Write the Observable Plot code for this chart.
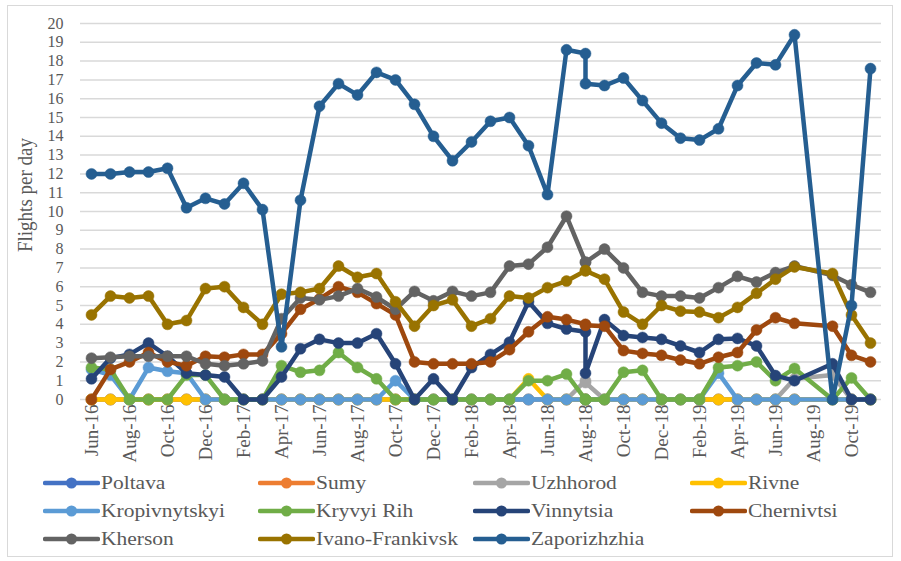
<!DOCTYPE html>
<html>
<head>
<meta charset="utf-8">
<script src="https://cdn.jsdelivr.net/npm/d3@7"></script>
<script src="https://cdn.jsdelivr.net/npm/@observablehq/plot@0.6"></script>
<style>
  html, body { margin: 0; padding: 0; background: #fff; }
  #wrap { position: relative; width: 901px; height: 561px; overflow: hidden; font-family: "Liberation Serif", "DejaVu Serif", serif; color: #595959; }
  #frame { position: absolute; left: 7px; top: 5px; width: 886px; height: 552px; border: 1px solid #d9d9d9; box-sizing: border-box; pointer-events: none; }
  #chart { position: absolute; left: 0; top: 0; }
  #ytitle { position: absolute; left: 25px; top: 195px; transform: translate(-50%, -50%) rotate(-90deg) scaleY(1.12); white-space: nowrap; font-size: 19px; }
  #legend { position: absolute; left: 43px; top: 469px; display: grid; grid-template-columns: 215px 215px 217px 200px; grid-auto-rows: 28px; font-size: 19px; }
  .item { display: flex; align-items: center; white-space: nowrap; }
  .item svg { flex: none; margin-right: 1px; }
  .item span { display: inline-block; transform: scaleX(1.13); transform-origin: left center; }
  #chart svg text { font-family: "Liberation Serif", "DejaVu Serif", serif; }
</style>
</head>
<body>
<div id="wrap">
  <div id="chart"></div>
  <div id="ytitle">Flights per day</div>
  <div id="legend"></div>
  <div id="frame"></div>
</div>
<script>
// Month of each data row (Aug-18 appears twice, Aug-19 has no row)
const rowMonths = ["Jun-16","Jul-16","Aug-16","Sep-16","Oct-16","Nov-16","Dec-16","Jan-17","Feb-17","Mar-17","Apr-17","May-17","Jun-17","Jul-17","Aug-17","Sep-17","Oct-17","Nov-17","Dec-17","Jan-18","Feb-18","Mar-18","Apr-18","May-18","Jun-18","Jul-18","Aug-18","Aug-18","Sep-18","Oct-18","Nov-18","Dec-18","Jan-19","Feb-19","Mar-19","Apr-19","May-19","Jun-19","Jul-19","Sep-19","Oct-19","Nov-19"];

// Category axis months
const axisMonths = ["Jun-16","Jul-16","Aug-16","Sep-16","Oct-16","Nov-16","Dec-16","Jan-17","Feb-17","Mar-17","Apr-17","May-17","Jun-17","Jul-17","Aug-17","Sep-17","Oct-17","Nov-17","Dec-17","Jan-18","Feb-18","Mar-18","Apr-18","May-18","Jun-18","Jul-18","Aug-18","Sep-18","Oct-18","Nov-18","Dec-18","Jan-19","Feb-19","Mar-19","Apr-19","May-19","Jun-19","Jul-19","Aug-19","Sep-19","Oct-19","Nov-19"];

const xTickLabels = ["Jun-16","Aug-16","Oct-16","Dec-16","Feb-17","Apr-17","Jun-17","Aug-17","Oct-17","Dec-17","Feb-18","Apr-18","Jun-18","Aug-18","Oct-18","Dec-18","Feb-19","Apr-19","Jun-19","Aug-19","Oct-19"];
const yTicks = [0,1,2,3,4,5,6,7,8,9,10,11,12,13,14,15,16,17,18,19,20];

const seriesNames = ["Poltava","Sumy","Uzhhorod","Rivne","Kropivnytskyi","Kryvyi Rih","Vinnytsia","Chernivtsi","Kherson","Ivano-Frankivsk","Zaporizhzhia"];
const seriesColors = ["#4472C4","#ED7D31","#A5A5A5","#FFC000","#5B9BD5","#70AD47","#264478","#9E480E","#636363","#997300","#255E91"];

const poltava =        [0,0,0,0,0,0,0,0,0,0,0,0,0,0,0,0,0,0,0,0,0,0,0,0,0,0, 0,0, 0,0,0,0,0,0,0,0,0,0,0, 0,0,0];
const sumy =           [0,0,0,0,0,0,0,0,0,0,0,0,0,0,0,0,0,0,0,0,0,0,0,0,0,0, 0,0, 0,0,0,0,0,0,0,0,0,0,0, 0,0,0];
const uzhhorod =       [0,0,0,0,0,0,0,0,0,0,0,0,0,0,0,0,0,0,0,0,0,0,0,0,0,0, 1.0,0.9, 0,0,0,0,0,0,0,0,0,0,1.1, 1.3,0,0];
const rivne =          [0,0,0,0,0,0,0,0,0,0,0,0,0,0,0,0,0,0,0,0,0,0,0,1.1,0,0, 0,0, 0,0,0,0,0,0,0,0,0,0,0, 0,0,0];
const kropivnytskyi =  [1.6,1.3,0,1.7,1.5,1.4,0,0,0,0,0,0,0,0,0,0,1.0,0,0,0,0,0,0,0,0,0, 0,0, 0,0,0,0,0,0,1.4,0,0,0,0, 0,0,0];
const kryvyiRih =      [1.7,1.6,0,0,0,1.3,1.3,0,0,0,1.8,1.45,1.55,2.5,1.7,1.1,0,0,0,0,0,0,0,1.0,1.0,1.35, 0,0, 0,1.45,1.55,0,0,0,1.7,1.8,2.0,1.0,1.65, 0,1.15,0];
const vinnytsia =      [1.1,2.2,2.4,3.0,2.3,1.4,1.3,1.2,0,0,1.2,2.7,3.2,3.0,3.0,3.5,1.9,0,1.1,0,1.7,2.4,3.05,5.2,4.05,3.75, 3.6,1.4, 4.25,3.4,3.3,3.2,2.85,2.5,3.2,3.25,2.85,1.27,1.0, 1.9,0,0];
const chernivtsi =     [0,1.6,2.0,2.5,2.0,1.8,2.3,2.25,2.4,2.4,3.5,4.8,5.35,6.0,5.7,5.1,4.5,2.0,1.9,1.9,1.9,2.0,2.65,3.6,4.4,4.25, 4.0,3.95, 3.9,2.6,2.45,2.35,2.1,1.9,2.25,2.5,3.7,4.35,4.05, 3.9,2.35,2.0];
const kherson =        [2.2,2.25,2.3,2.3,2.3,2.3,1.9,1.8,1.9,2.05,4.3,5.4,5.3,5.5,5.9,5.45,4.8,5.75,5.25,5.75,5.5,5.7,7.1,7.2,8.1,9.75, 7.3,7.3, 8.0,7.0,5.7,5.5,5.5,5.4,5.95,6.55,6.25,6.75,7.1, 6.6,6.1,5.7];
const ivanoFrankivsk = [4.5,5.5,5.4,5.5,4.0,4.2,5.9,6.0,4.9,4.0,5.6,5.7,5.9,7.1,6.5,6.7,5.2,3.9,5.0,5.3,3.9,4.3,5.5,5.4,5.95,6.3, 6.85,6.85, 6.4,4.65,4.0,5.0,4.7,4.65,4.35,4.9,5.65,6.4,7.05, 6.7,4.5,3.0];
const zaporizhzhia =   [12.0,12.0,12.1,12.1,12.3,10.2,10.7,10.4,11.5,10.1,2.8,10.6,15.6,16.8,16.2,17.4,17.0,15.7,14.0,12.7,13.7,14.8,15.0,13.5,10.9,18.6, 18.4,16.8, 16.7,17.1,15.9,14.7,13.9,13.8,14.4,16.7,17.9,17.8,19.4, 0,5.0,17.6];

const seriesValues = [poltava, sumy, uzhhorod, rivne, kropivnytskyi, kryvyiRih, vinnytsia, chernivtsi, kherson, ivanoFrankivsk, zaporizhzhia];

const seriesMarks = [];
seriesNames.forEach((name, s) => {
  const rows = rowMonths.map((m, k) => ({month: m, value: seriesValues[s][k], series: name}));
  const color = seriesColors[s];
  seriesMarks.push(Plot.line(rows, {x: "month", y: "value", stroke: color, strokeWidth: 4.5, strokeLinejoin: "round", strokeLinecap: "round"}));
  seriesMarks.push(Plot.dot(rows, {x: "month", y: "value", fill: color, stroke: color, r: 5.5, strokeWidth: 0.5}));
});

const chart = Plot.plot({
  width: 901,
  height: 470,
  marginLeft: 80,
  marginRight: 20,
  marginTop: 23,
  marginBottom: 71,
  style: {fontFamily: "Liberation Serif, DejaVu Serif, serif", fontSize: "19px", color: "#595959", background: "transparent"},
  x: {type: "point", domain: axisMonths, padding: 0},
  y: {domain: [0, 20]},
  marks: [
    Plot.gridY(yTicks, {stroke: "#d9d9d9", strokeOpacity: 1, strokeWidth: 1.5}),
    Plot.axisY(yTicks, {tickSize: 0, tickPadding: 17, label: null, fontSize: 16}),
    Plot.axisX(xTickLabels, {tickSize: 0, tickPadding: 5, tickRotate: -90, label: null, fontSize: 19}),
    ...seriesMarks
  ]
});
document.getElementById("chart").appendChild(chart);

// Legend
const legend = document.getElementById("legend");
seriesNames.forEach((name, s) => {
  const item = document.createElement("div");
  item.className = "item";
  const ns = "http://www.w3.org/2000/svg";
  const sw = document.createElementNS(ns, "svg");
  sw.setAttribute("width", 57); sw.setAttribute("height", 14);
  const ln = document.createElementNS(ns, "line");
  ln.setAttribute("x1", 2); ln.setAttribute("x2", 55); ln.setAttribute("y1", 7); ln.setAttribute("y2", 7);
  ln.setAttribute("stroke", seriesColors[s]); ln.setAttribute("stroke-width", 4.5); ln.setAttribute("stroke-linecap", "round");
  const c = document.createElementNS(ns, "circle");
  c.setAttribute("cx", 28.5); c.setAttribute("cy", 7); c.setAttribute("r", 5.5); c.setAttribute("fill", seriesColors[s]);
  sw.appendChild(ln); sw.appendChild(c);
  const t = document.createElement("span");
  t.textContent = name;
  item.appendChild(sw); item.appendChild(t);
  legend.appendChild(item);
});
</script>
</body>
</html>
